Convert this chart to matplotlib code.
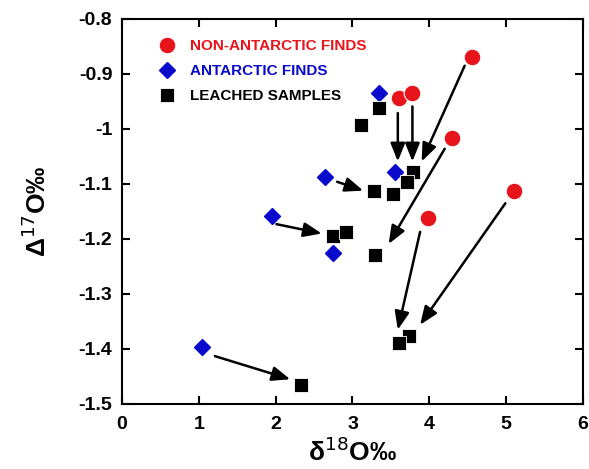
import matplotlib
matplotlib.use("Agg")
import matplotlib.pyplot as plt

# Data
non_ant_x = [4.56, 3.61, 3.78, 4.29, 5.10, 3.98]
non_ant_y = [-0.870, -0.944, -0.935, -1.017, -1.112, -1.161]

ant_x = [3.35, 2.64, 3.55, 1.95, 2.74, 1.04]
ant_y = [-0.934, -1.087, -1.079, -1.158, -1.226, -1.397]

leach_x = [3.34, 3.11, 3.79, 3.71, 3.28, 3.53, 2.74, 2.91, 3.29, 3.74, 3.60, 2.33]
leach_y = [-0.962, -0.993, -1.079, -1.096, -1.112, -1.119, -1.195, -1.188, -1.230, -1.376, -1.390, -1.465]

# arrows: start (x, y) -> tip (x, y)
arrow_start_x = [2.80, 2.01, 1.21, 3.59, 3.78, 4.46, 4.20, 3.88, 4.99]
arrow_start_y = [-1.096, -1.173, -1.413, -0.971, -0.959, -0.885, -1.036, -1.187, -1.135]
arrow_end_x = [3.14, 2.60, 2.19, 3.59, 3.78, 3.90, 3.47, 3.59, 3.88]
arrow_end_y = [-1.112, -1.190, -1.455, -1.059, -1.059, -1.059, -1.209, -1.365, -1.356]

labels = ["NON-ANTARCTIC FINDS", "ANTARCTIC FINDS", "LEACHED SAMPLES"]
xticks = [0, 1, 2, 3, 4, 5, 6]
yticks = [-1.5, -1.4, -1.3, -1.2, -1.1, -1.0, -0.9, -0.8]
ytick_labels = ["-1.5", "-1.4", "-1.3", "-1.2", "-1.1", "-1", "-0.9", "-0.8"]

RED = "#e8141b"
BLUE = "#0a0acc"

plt.rcParams['font.family'] = ['Liberation Sans', 'DejaVu Sans']

fig = plt.figure(figsize=(5.89, 4.69), dpi=100)
ax = fig.add_axes([0.2071, 0.1386, 0.7827, 0.8209])

ax.plot(ant_x, ant_y, linestyle='none', marker='D', markersize=8.5,
        color=BLUE, markeredgecolor=BLUE, zorder=3, label=labels[1])
ax.plot(non_ant_x, non_ant_y, linestyle='none', marker='o', markersize=12,
        color=RED, markeredgecolor='white', markeredgewidth=0.8, zorder=4, label=labels[0])
ax.plot(leach_x, leach_y, linestyle='none', marker='s', markersize=10,
        color='black', markeredgecolor='white', markeredgewidth=0.6, zorder=3, label=labels[2])

for sx, sy, ex, ey in zip(arrow_start_x, arrow_start_y, arrow_end_x, arrow_end_y):
    ax.annotate('', xy=(ex, ey), xytext=(sx, sy),
                arrowprops=dict(arrowstyle='-|>,head_length=0.5,head_width=0.2',
                                color='black', lw=1.8,
                                mutation_scale=22, shrinkA=0, shrinkB=0),
                zorder=2)

ax.set_xlim(0, 6)
ax.set_ylim(-1.5, -0.8)
ax.set_xticks(xticks)
ax.set_yticks(yticks)
ax.set_yticklabels(ytick_labels)
ax.tick_params(direction='in', length=6, width=1.5, top=True, right=True,
               labelsize=14)
ax.tick_params(axis='x', pad=9)
ax.tick_params(axis='y', pad=7)
for lab in ax.get_xticklabels() + ax.get_yticklabels():
    lab.set_fontweight('bold')
for sp in ax.spines.values():
    sp.set_linewidth(1.5)

ax.set_xlabel('δ$^{18}$O‰', fontsize=19, fontweight='bold', labelpad=3)
ax.set_ylabel('Δ$^{17}$O‰', fontsize=19, fontweight='bold', labelpad=20)

h, l = ax.get_legend_handles_labels()
order = [1, 0, 2]
leg = ax.legend([h[i] for i in order], [l[i] for i in order], loc='upper left',
                bbox_to_anchor=(0.055, 0.975), frameon=False,
                prop={'weight': 'bold', 'size': 11}, handletextpad=0.9,
                labelspacing=0.72, borderaxespad=0.3, handlelength=1.2)
for txt, c in zip(leg.get_texts(), [RED, BLUE, 'black']):
    txt.set_color(c)

fig.savefig('out.png', dpi=100)
